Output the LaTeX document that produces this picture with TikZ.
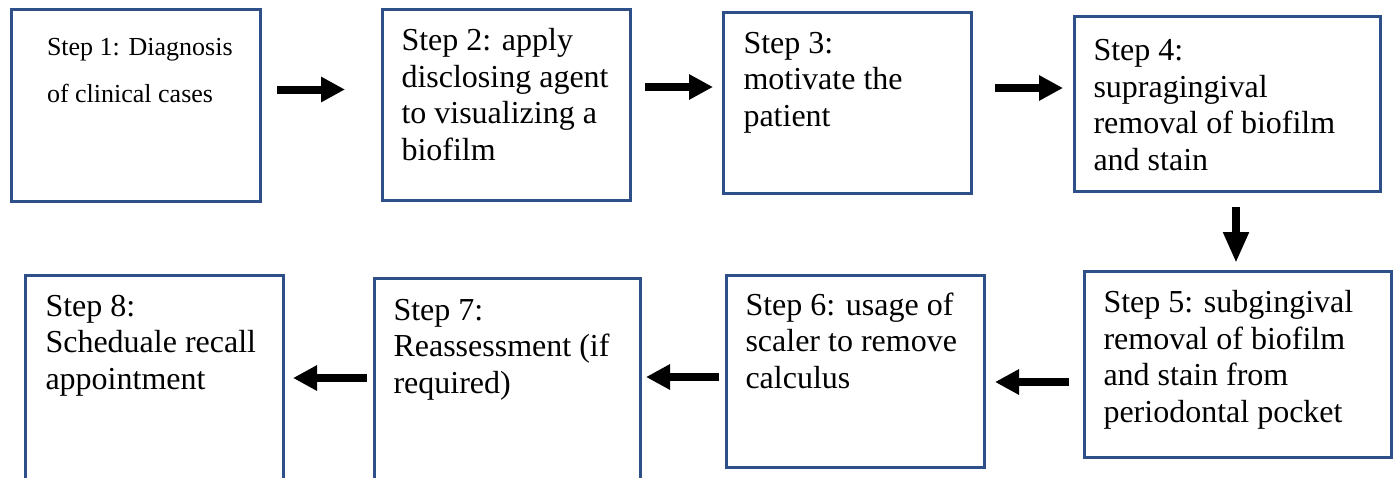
\documentclass[tikz,border=0pt]{standalone}
\usepackage{fontspec}
\setmainfont{LiberationSerif}[Extension=.ttf, UprightFont=*-Regular, BoldFont=*-Bold]
\usetikzlibrary{arrows.meta}
\definecolor{boxblue}{RGB}{44,80,135}
\begin{document}
\begin{tikzpicture}[x=1pt,y=-1pt,
  box/.style={draw=boxblue, line width=3pt, outer sep=0pt, inner sep=0pt, anchor=north west},
  txt/.style={anchor=base west, inner sep=0pt, outer sep=0pt, align=left, font=\rmfamily\fontsize{32}{36.5}\selectfont},
  arr/.style={line width=8pt, -{Triangle[length=24pt,width=24pt]}},
  darr/.style={line width=8pt, -{Triangle[length=31pt,width=24pt]}}]
\fill[white] (0,0) rectangle (1395,477);
\clip (0,0) rectangle (1395,477);
\useasboundingbox (0,0) rectangle (1395,477);
% boxes
\node[box, minimum width=249pt, minimum height=192pt] (b1) at (11.5,9.5) {};
\node[box, minimum width=248pt, minimum height=191pt] (b2) at (382.5,9.5) {};
\node[box, minimum width=248pt, minimum height=181pt] (b3) at (723.5,12.5) {};
\node[box, minimum width=306pt, minimum height=175pt] (b4) at (1074.5,16.5) {};
\node[box, minimum width=307pt, minimum height=186pt] (b5) at (1084.5,271.5) {};
\node[box, minimum width=258pt, minimum height=192pt] (b6) at (726.5,275.5) {};
\node[box, minimum width=266pt, minimum height=220pt] (b7) at (374.5,278.5) {};
\node[box, minimum width=258pt, minimum height=220pt] (b8) at (25.5,275.5) {};
% texts (anchor = baseline of the last line)
\node[txt, font=\rmfamily\fontsize{26}{47}\selectfont] (t1) at (47,102) {Step 1: Diagnosis\\of clinical cases};
\node[txt] (t2) at (401.5,160) {Step 2: apply\\disclosing agent\\to visualizing a\\biofilm};
\node[txt] (t3) at (743.5,126) {Step 3:\\motivate the\\patient};
\node[txt] (t4) at (1093.5,170) {Step 4:\\supragingival\\removal of biofilm\\and stain};
\node[txt] (t5) at (1103.5,422) {Step 5: subgingival\\removal of biofilm\\and stain from\\periodontal pocket};
\node[txt] (t6) at (745.5,388) {Step 6: usage of\\scaler to remove\\calculus};
\node[txt] (t7) at (393.5,393) {Step 7:\\Reassessment (if\\required)};
\node[txt] (t8) at (45.5,389) {Step 8:\\Scheduale recall\\appointment};
% arrow rows
\coordinate (y1) at (0,89.5);
\coordinate (y2) at (0,87);
\coordinate (y3) at (0,88);
\coordinate (x4) at (1236,0);
\coordinate (y5) at (0,382);
\coordinate (y6) at (0,377);
\coordinate (y7) at (0,378);
\draw[arr, shorten <=16.5pt, shorten >=37.5pt] (b1.east |- y1) -- (b2.west |- y1);
\draw[arr, shorten <=14.5pt, shorten >=10.5pt] (b2.east |- y2) -- (b3.west |- y2);
\draw[arr, shorten <=23.5pt, shorten >=11.5pt] (b3.east |- y3) -- (b4.west |- y3);
\draw[darr, shorten <=15.5pt, shorten >=8.5pt] (x4 |- b4.south) -- (x4 |- b5.north);
\draw[arr, shorten <=15.5pt, shorten >=10.5pt] (b5.west |- y5) -- (b6.east |- y5);
\draw[arr, shorten <=7.5pt, shorten >=5.5pt] (b6.west |- y6) -- (b7.east |- y6);
\draw[arr, shorten <=7.5pt, shorten >=9.5pt] (b7.west |- y7) -- (b8.east |- y7);
\end{tikzpicture}
\end{document}
